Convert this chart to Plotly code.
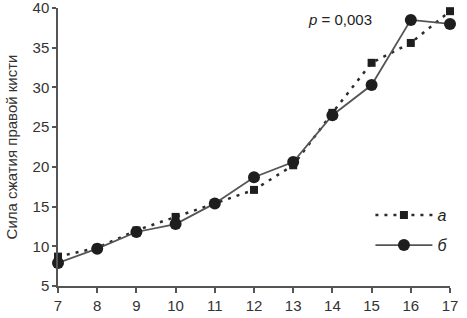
import plotly.graph_objects as go

ages = [7, 8, 9, 10, 11, 12, 13, 14, 15, 16, 17]
series_a = [8.7, 9.8, 12.0, 13.7, 15.4, 17.1, 20.2, 26.8, 33.1, 35.6, 39.6]
series_b = [7.9, 9.7, 11.8, 12.8, 15.4, 18.7, 20.6, 26.5, 30.3, 38.5, 38.0]
y_ticks = [5, 10, 15, 20, 25, 30, 35, 40]
name_a = "а"
name_b = "б"
y_title = "Сила сжатия правой кисти"
p_text = "<i>p</i> = 0,003"

fig = go.Figure()
fig.add_trace(go.Scatter(
    x=ages, y=series_a, name=f"<i>{name_a}</i>", mode="lines+markers",
    line=dict(color="#2a2a2a", width=2.5, dash="3px,6px"),
    marker=dict(symbol="square", size=8, color="#1e1e1e"),
    cliponaxis=False, legend="legend",
))
fig.add_trace(go.Scatter(
    x=ages, y=series_b, name=f"<i>{name_b}</i>", mode="lines+markers",
    line=dict(color="#555555", width=1.8),
    marker=dict(symbol="circle", size=12, color="#1e1e1e"),
    cliponaxis=False, legend="legend2",
))

fig.add_annotation(x=14.2, y=38.6, xref="x", yref="y", text=p_text,
                   showarrow=False, xanchor="center", yanchor="middle",
                   font=dict(size=15, color="#222"))

axis_common = dict(showgrid=False, zeroline=False, showline=True,
                   linecolor="#555", linewidth=1.5, ticks="outside",
                   tickcolor="#555", tickwidth=1.5,
                   tickfont=dict(size=15, color="#333"),
                   automargin=False, ticklabeloverflow="allow")
fig.update_xaxes(range=[7, 17], tickvals=ages, ticklen=5, **axis_common)
fig.update_yaxes(range=[5, 40], tickvals=y_ticks, ticklen=4,
                 title=dict(text=y_title, font=dict(size=15, color="#333"), standoff=11),
                 **axis_common)

leg_common = dict(xanchor="left", yanchor="middle", itemwidth=57,
                  font=dict(size=16, color="#222"), bgcolor="rgba(0,0,0,0)",
                  borderwidth=0)
fig.update_layout(
    width=467, height=318,
    margin=dict(l=58, r=17, t=8, b=32),
    plot_bgcolor="white", paper_bgcolor="white",
    font=dict(family="Liberation Sans, Arial, sans-serif", color="#333"),
    showlegend=True,
    legend=dict(x=0.797, y=0.255, **leg_common),
    legend2=dict(x=0.797, y=0.147, **leg_common),
)

fig.write_html("out.html", config={"displayModeBar": False},
               post_script="document.body.style.margin='0px';document.body.style.overflow='hidden';")
